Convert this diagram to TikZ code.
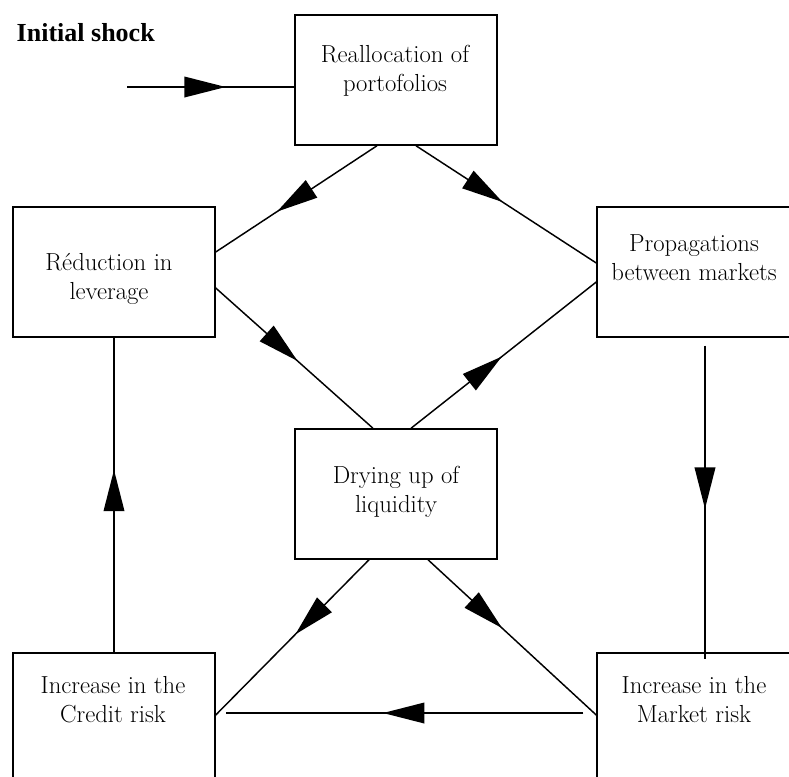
\documentclass[tikz,border=0pt]{standalone}
\usepackage{fontspec}
\usetikzlibrary{arrows.meta,decorations.markings}
\newfontfamily\shockfont{Liberation Serif}

\begin{document}
\begin{tikzpicture}[x=0.75pt, y=-0.75pt, line width=1.1pt]
  \tikzstyle{box}=[draw, rectangle, minimum width=151.5pt, minimum height=97.5pt, inner sep=0pt]
  \tikzstyle{txt}=[align=center, anchor=base, inner sep=0pt,
                   font=\fontsize{18.5}{21.5}\selectfont]
  \tikzset{flow/.style={postaction={decorate}, decoration={markings,
      mark=at position #1 with {\arrow{Triangle[length=31pt, width=15.5pt]}}}}}
  \useasboundingbox (0,0) rectangle (789,776);
  \clip (0,0) rectangle (789,776);

  % boxes
  \node[box] (realloc) at (396,80) {};
  \node[box] (reduc) at (114,272) {};
  \node[box] (propag) at (698,272) {};
  \node[box] (drying) at (396,494) {};
  \node[box] (credit) at (114,718) {};
  \node[box] (market) at (698,718) {};

  % texts (placed at the baseline of their last line)
  \node[txt] (realloc-t) at ([shift={(-1,77)}]realloc.north) {Reallocation of\\portofolios};
  \node[txt] (reduc-t) at ([shift={(-5,93)}]reduc.north) {R\'eduction in\\leverage};
  \node[txt] (propag-t) at ([shift={(-4,74)}]propag.north) {Propagations\\between markets};
  \node[txt] (drying-t) at ([shift={(0,84)}]drying.north) {Drying up of\\liquidity};
  \node[txt] (credit-t) at ([shift={(-1,70)}]credit.north) {Increase in the\\Credit risk};
  \node[txt] (market-t) at ([shift={(-4,70)}]market.north) {Increase in the\\Market risk};

  \node[anchor=base west, inner sep=0pt, font=\shockfont\bfseries\fontsize{19.5}{22}\selectfont] (shock) at (16,41) {Initial shock};
  \coordinate (shockstart) at (127,87);

  % connectors
  \draw[flow=0.59] (shockstart) -- ([shift={(0,7)}]realloc.west);
  \draw[flow=0.62] ([shift={(-19,0)}]realloc.south) -- ([shift={(0,-20)}]reduc.east);
  \draw[flow=0.48] ([shift={(20,0)}]realloc.south) -- ([shift={(0,-9)}]propag.west);
  \draw[flow=0.52] ([shift={(0,16)}]reduc.east) -- ([shift={(-23,0)}]drying.north);
  \draw[flow=0.49] ([shift={(15,0)}]drying.north) -- ([shift={(0,10)}]propag.west);
  \draw[flow=0.52] ([shift={(7,8)}]propag.south) -- ([shift={(7,7)}]market.north);
  \draw[flow=0.48] ([shift={(-27,0)}]drying.south) -- ([shift={(0,-3)}]credit.east);
  \draw[flow=0.44] ([shift={(32,0)}]drying.south) -- ([shift={(0,-3)}]market.west);
  \draw[flow=0.56] ([shift={(-13,-5)}]market.west) -- ([shift={(10,-5)}]credit.east);
  \draw[flow=0.58] (credit.north) -- (reduc.south);
\end{tikzpicture}
\end{document}
